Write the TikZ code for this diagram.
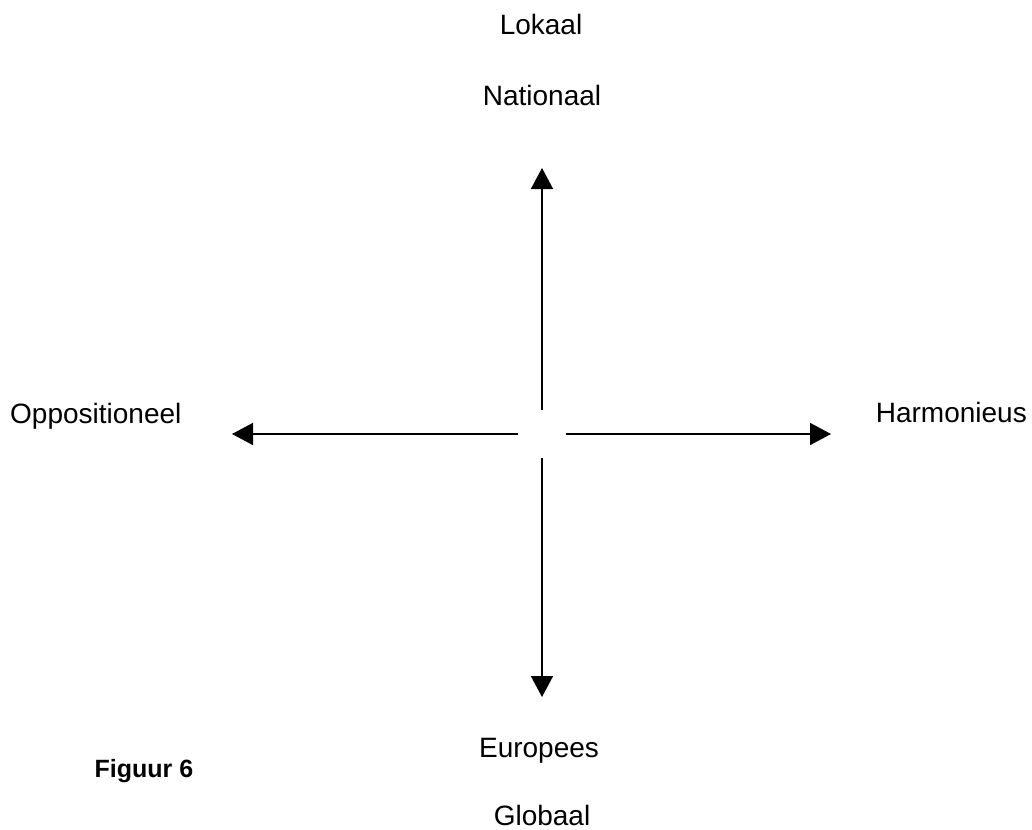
\documentclass[tikz,border=0pt]{standalone}
\usepackage{fontspec}
\setmainfont{Liberation Sans}
\usetikzlibrary{positioning}
\usetikzlibrary{arrows.meta}

\begin{document}
\begin{tikzpicture}[
x=1pt,y=-1pt,
pole/.style={
	% The text:
	font=\fontsize{28}{34}\selectfont,
	% No border, sits on its baseline
	inner sep=0pt, anchor=base},
caption/.style={
	font=\fontsize{25}{31}\selectfont\bfseries,
	inner sep=0pt, anchor=base},
axis/.style={
	% The line:
	line width=1.6pt, black,
	% The tip:
	-{Triangle[length=21pt,width=22pt]}},
]
\useasboundingbox (0,0) rectangle (1032,829);

% the empty middle, where the four axes start
\node (centre) [circle, minimum size=47pt, inner sep=0pt] at (542,434) {};
\coordinate (top) at (542,168);
\coordinate (bottom) at (542,697);
\coordinate (left) at (232,434);
\coordinate (right) at (831,434);

\draw[axis] (centre.north) -- (top);
\draw[axis] (centre.south) -- (bottom);
\draw[axis] (centre.west) -- (left);
\draw[axis] (centre.east) -- (right);

\node (lokaal) [pole] at (541,35) {Lokaal};
\node (nationaal) [pole] at (542,106) {Nationaal};
\node (europees) [pole] at (539,757) {Europees};
\node (globaal) [pole] at (542,825) {Globaal};
\node (oppositioneel) [pole, anchor=base west] at (10,423) {Oppositioneel};
\node (harmonieus) [pole, anchor=base east] at (1027,422) {Harmonieus};
\node (figuur) [caption] at (144,777) {Figuur 6};

\end{tikzpicture}
\end{document}
